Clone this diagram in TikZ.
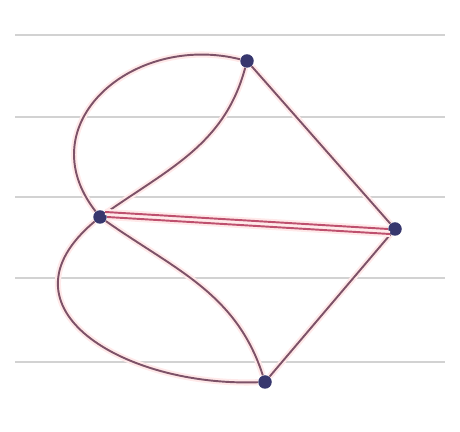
\documentclass[tikz,border=0pt]{standalone}
\usepackage{tikz}
\usetikzlibrary{arrows,positioning,shapes}
\usepackage{xcolor}
\definecolor{ink}{RGB}{125,82,104}
\definecolor{dot}{RGB}{55,55,110}
\definecolor{redink}{RGB}{190,80,110}

\begin{document}
\begin{tikzpicture}[x=0.02cm, y=0.02cm,
    vertex/.style={circle, fill=dot, inner sep=0pt, minimum size=0.27cm},
    edge/.style={draw=ink, line width=1.1pt, preaction={draw=pink!35, line width=3.5pt}},
    ruled/.style={draw=gray!35, line width=1pt}]
    \useasboundingbox (0,0) rectangle (460,432);

    % 罫線
    \foreach \y in {397,315,235,154,70} {
        \draw[ruled] (15,\y) -- (445,\y);
    }

    % 頂点
    \node[vertex] (v1) at (100,215) {};
    \node[vertex] (v2) at (247,371) {};
    \node[vertex] (v3) at (395,203) {};
    \node[vertex] (v4) at (265,50) {};

    % 辺
    \draw[edge] (v1) to[out=35, in=-105] (v2);
    \draw[edge] (v1) to[out=128, in=166, looseness=1.35] (v2);
    \draw[edge] (v2) -- (v3);
    \draw[edge] (v1) to[out=-35, in=108] (v4);
    \draw[edge] (v1) to[out=-140, in=182, looseness=1.5] (v4);
    \draw[edge] (v4) -- (v3);

    % 多重辺
    \draw[edge, draw=redink] (v1.north east) -- (v3.west);
    \draw[edge, draw=redink] (v1.east) -- (v3.south west);
\end{tikzpicture}
\end{document}
